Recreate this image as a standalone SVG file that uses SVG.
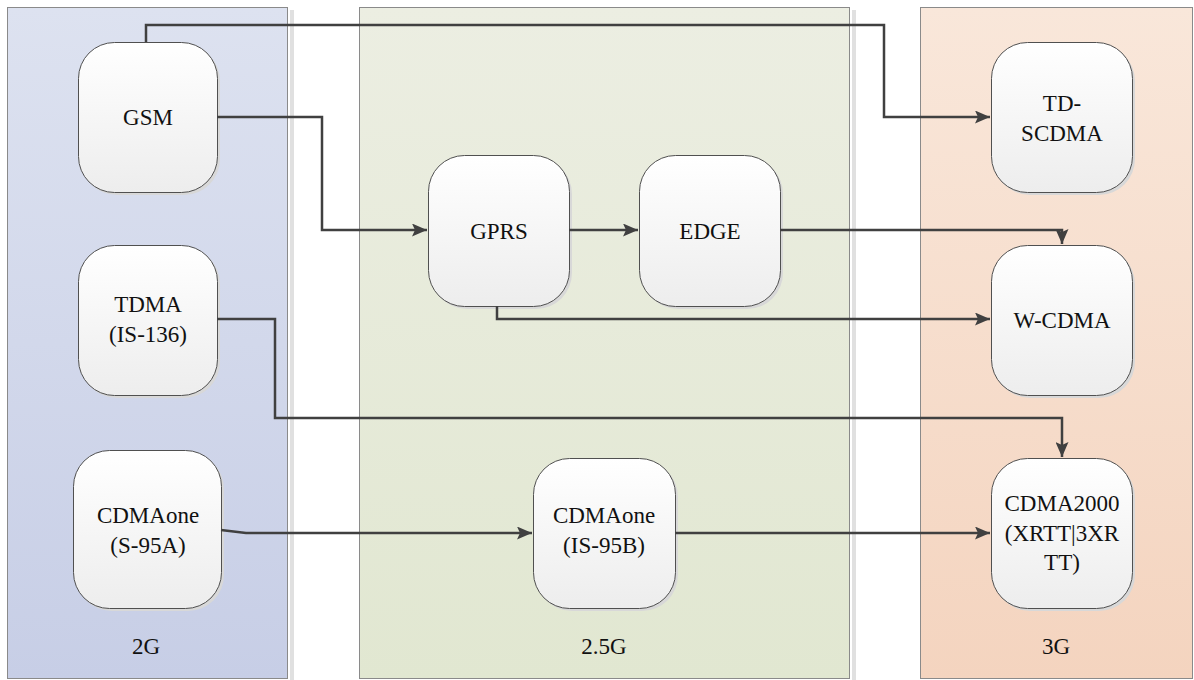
<svg xmlns="http://www.w3.org/2000/svg" width="1194" height="680" viewBox="0 0 1194 680">
<defs>
<linearGradient id="g2" x1="0" y1="0" x2="0" y2="1"><stop offset="0" stop-color="#dde2f0"/><stop offset="1" stop-color="#c7cee6"/></linearGradient>
<linearGradient id="g25" x1="0" y1="0" x2="0" y2="1"><stop offset="0" stop-color="#eceee2"/><stop offset="1" stop-color="#e1e7d1"/></linearGradient>
<linearGradient id="g3" x1="0" y1="0" x2="0" y2="1"><stop offset="0" stop-color="#f9e7da"/><stop offset="1" stop-color="#f4d4bf"/></linearGradient>
<linearGradient id="gn" x1="0" y1="0" x2="0" y2="1"><stop offset="0" stop-color="#ffffff"/><stop offset="1" stop-color="#ededed"/></linearGradient>
<marker id="arr" markerWidth="15" markerHeight="13" refX="15" refY="6.5" orient="auto" markerUnits="userSpaceOnUse"><path d="M0,0 L15,6.5 L0,13 L3,6.5 Z" fill="#404040"/></marker>
</defs>
<style>
.lane{stroke:#8a8a8a;stroke-width:1}
.lsh{fill:#e0e0e0}
.b{fill:url(#gn);stroke:#505050;stroke-width:1}
.s{fill:#d8d8d8}
.t{font-family:"Liberation Serif","Times New Roman",Tinos,"DejaVu Serif",serif;font-size:23px;fill:#111;text-anchor:middle}
.conn path{fill:none;stroke:#404040;stroke-width:2.5}
</style>
<rect width="1194" height="680" fill="#ffffff"/>
<g id="lane-2g">
<rect class="lsh" x="290" y="10" width="4" height="670"/>
<rect class="lane" x="7.5" y="7.5" width="280" height="671" fill="url(#g2)"/>
<text class="t" x="146" y="654">2G</text>
</g>
<g id="lane-25g">
<rect class="lsh" x="852" y="10" width="4" height="670"/>
<rect class="lane" x="359.5" y="7.5" width="490" height="671" fill="url(#g25)"/>
<text class="t" x="604" y="654">2.5G</text>
</g>
<g id="lane-3g">
<rect class="lane" x="920.5" y="7.5" width="272" height="671" fill="url(#g3)"/>
<text class="t" x="1056" y="654">3G</text>
</g>
<g id="gsm" class="node"><rect class="s" x="81" y="45" width="139" height="150" rx="36"/><rect class="b" x="78.5" y="42.5" width="139" height="150" rx="36"/><text class="t" x="148" y="125">GSM</text></g>
<g id="tdma" class="node"><rect class="s" x="81" y="248" width="139" height="150" rx="36"/><rect class="b" x="78.5" y="245.5" width="139" height="150" rx="36"/><text class="t" x="148" y="312">TDMA</text><text class="t" x="148" y="342">(IS-136)</text></g>
<g id="cdmaone-a" class="node"><rect class="s" x="76" y="453" width="148" height="158" rx="36"/><rect class="b" x="73.5" y="450.5" width="148" height="158" rx="36"/><text class="t" x="148" y="523">CDMAone</text><text class="t" x="148" y="553">(S-95A)</text></g>
<g id="gprs" class="node"><rect class="s" x="431" y="158" width="141" height="151" rx="36"/><rect class="b" x="428.5" y="155.5" width="141" height="151" rx="36"/><text class="t" x="499" y="239">GPRS</text></g>
<g id="edge" class="node"><rect class="s" x="642" y="158" width="141" height="151" rx="36"/><rect class="b" x="639.5" y="155.5" width="141" height="151" rx="36"/><text class="t" x="710" y="239">EDGE</text></g>
<g id="cdmaone-b" class="node"><rect class="s" x="536" y="461" width="142" height="150" rx="36"/><rect class="b" x="533.5" y="458.5" width="142" height="150" rx="36"/><text class="t" x="604" y="523">CDMAone</text><text class="t" x="604" y="553">(IS-95B)</text></g>
<g id="tdscdma" class="node"><rect class="s" x="994" y="45" width="141" height="150" rx="36"/><rect class="b" x="991.5" y="42.5" width="141" height="150" rx="36"/><text class="t" x="1062" y="111">TD-</text><text class="t" x="1062" y="141">SCDMA</text></g>
<g id="wcdma" class="node"><rect class="s" x="994" y="248" width="141" height="150" rx="36"/><rect class="b" x="991.5" y="245.5" width="141" height="150" rx="36"/><text class="t" x="1062" y="328">W-CDMA</text></g>
<g id="cdma2000" class="node"><rect class="s" x="994" y="461" width="141" height="150" rx="36"/><rect class="b" x="991.5" y="458.5" width="141" height="150" rx="36"/><text class="t" x="1062" y="511">CDMA2000</text><text class="t" x="1062" y="541">(XRTT|3XR</text><text class="t" x="1062" y="570">TT)</text></g>
<g id="connectors" class="conn">
<path d="M146,42 V25 H884 V117 H990" marker-end="url(#arr)"/>
<path d="M217,117 H322 V230 H427" marker-end="url(#arr)"/>
<path d="M569,230 H638" marker-end="url(#arr)"/>
<path d="M780,230 H1062 V244" marker-end="url(#arr)"/>
<path d="M497,306 V319 H990" marker-end="url(#arr)"/>
<path d="M217,319 H275 V418 H1062 V457" marker-end="url(#arr)"/>
<path d="M221,530 L246,533 H532" marker-end="url(#arr)"/>
<path d="M675,533 H990" marker-end="url(#arr)"/>
</g>
</svg>
